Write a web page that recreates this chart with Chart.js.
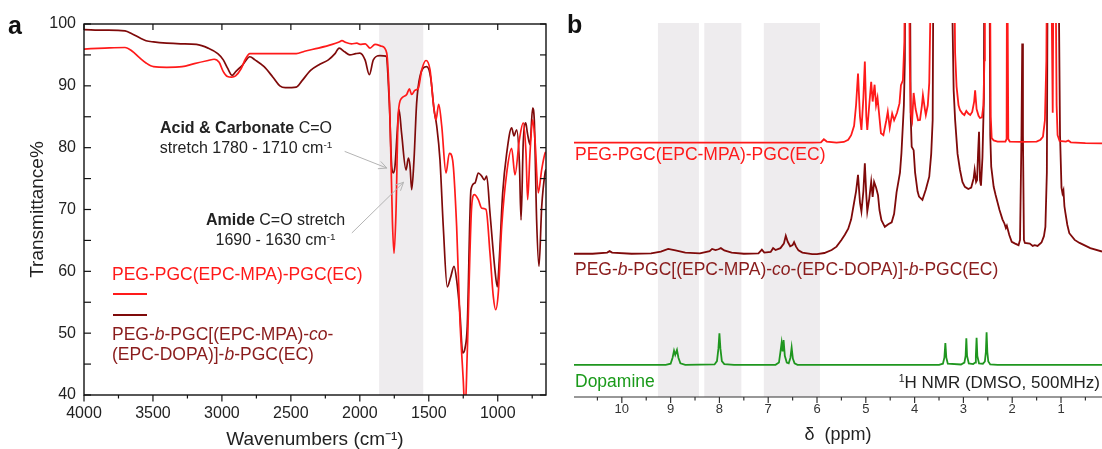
<!DOCTYPE html>
<html><head><meta charset="utf-8">
<script src="https://cdn.jsdelivr.net/npm/chart.js@4.4.1/dist/chart.umd.min.js"></script>
<style>
html,body{margin:0;padding:0;background:#fff;}
body{width:1102px;height:449px;position:relative;overflow:hidden;font-family:'Liberation Sans',Arial,sans-serif;}
canvas{position:absolute;top:0;}
#ca{left:0;width:560px;height:449px;} #cb{left:560px;width:542px;height:449px;}
.t{position:absolute;line-height:1;white-space:nowrap;}
.s{font-size:0.62em;vertical-align:0.55em;}
</style></head><body>
<canvas id="ca" width="560" height="449"></canvas>
<canvas id="cb" width="542" height="449"></canvas>

<div class="t" style="left:8px;top:13px;font-size:25px;font-weight:bold;color:#111;">a</div>
<div class="t" style="left:567px;top:12px;font-size:25px;font-weight:bold;color:#111;">b</div>

<div class="t" style="left:155px;top:120px;width:182px;text-align:center;font-size:16px;color:#222;"><b>Acid &amp; Carbonate</b> C=O</div>
<div class="t" style="left:145px;top:140px;width:202px;text-align:center;font-size:16px;color:#222;">stretch 1780 - 1710 cm<span class="s">-1</span></div>
<div class="t" style="left:195px;top:212px;width:161px;text-align:center;font-size:16px;color:#222;"><b>Amide</b> C=O stretch</div>
<div class="t" style="left:195px;top:232px;width:161px;text-align:center;font-size:16px;color:#222;">1690 - 1630 cm<span class="s">-1</span></div>

<div class="t" style="left:112px;top:266px;font-size:17.5px;color:#ff1a1a;">PEG-PGC(EPC-MPA)-PGC(EC)</div>
<div style="position:absolute;left:113px;top:293px;width:34px;height:2px;background:#ff1a1a;"></div>
<div style="position:absolute;left:113px;top:314px;width:34px;height:2px;background:#7f0a0a;"></div>
<div class="t" style="left:112px;top:326px;font-size:17.5px;color:#8a1c1c;">PEG-<i>b</i>-PGC[(EPC-MPA)-<i>co</i>-</div>
<div class="t" style="left:112px;top:346px;font-size:17.5px;color:#8a1c1c;">(EPC-DOPA)]-<i>b</i>-PGC(EC)</div>

<div class="t" style="left:575px;top:146px;font-size:17.5px;color:#ff1a1a;">PEG-PGC(EPC-MPA)-PGC(EC)</div>
<div class="t" style="left:575px;top:261px;font-size:17.5px;color:#8a1c1c;">PEG-<i>b</i>-PGC[(EPC-MPA)-<i>co</i>-(EPC-DOPA)]-<i>b</i>-PGC(EC)</div>
<div class="t" style="left:575px;top:373px;font-size:17.5px;color:#1a9a1a;">Dopamine</div>
<div class="t" style="right:2px;top:373px;font-size:17px;color:#222;"><span class="s">1</span>H NMR (DMSO, 500MHz)</div>

<script>
// ---------- Panel a: FTIR (wavenumber, transmittance %) ----------
const ftirRed = [
 [4000,95.95],[3850,96.1],[3703,96.2],[3650,95.6],[3600,94.6],[3550,93.7],[3496,93.1],[3400,93.0],
 [3289,93.1],[3200,93.6],[3100,94.1],[3056,94.3],[3020,93.8],[2990,92.3],[2960,91.5],[2930,91.4],
 [2901,91.6],[2860,92.8],[2830,94.3],[2797,95.2],[2700,95.2],[2600,95.2],[2461,95.2],[2400,95.6],
 [2300,96.1],[2200,96.7],[2150,97.1],[2130,97.3],[2100,97.0],[2060,96.8],[2021,96.9],[1999,96.7],
 [1960,96.8],[1926,96.1],[1890,96.7],[1841,96.4],[1805,95.3],[1781,84.5],[1764,68.3],[1752,62.9],
 [1738,69.4],[1721,85.6],[1697,88.0],[1660,88.6],[1641,89.5],[1624,88.6],[1600,89.3],[1576,89.6],
 [1551,92.6],[1520,94.1],[1491,92.6],[1467,87.2],[1448,84.5],[1428,87.0],[1406,83.5],[1375,75.9],
 [1351,79.1],[1327,78.0],[1298,67.3],[1274,52.1],[1250,42.4],[1237,37.0],[1221,46.8],[1189,70.5],
 [1170,72.4],[1141,71.6],[1116,70.2],[1085,70.0],[1056,62.9],[1032,55.9],[1015,53.8],[996,56.5],
 [971,67.3],[935,75.9],[899,79.9],[875,75.6],[843,81.3],[815,84.0],[795,79.1],[783,71.6],
 [766,79.1],[747,84.5],[730,81.3],[706,72.7],[681,76.5],[657,79.1],[650,79.3]
];
const ftirDark = [
 [4000,99.1],[3850,99.0],[3703,98.9],[3650,98.4],[3600,97.8],[3550,97.3],[3496,97.1],[3400,96.9],
 [3300,96.8],[3185,96.7],[3100,96.1],[3030,95.2],[2990,94.2],[2960,92.9],[2926,91.7],[2900,92.3],
 [2849,93.4],[2797,94.7],[2760,94.2],[2694,93.1],[2630,91.4],[2580,90.0],[2540,89.7],[2461,89.8],
 [2420,90.8],[2357,92.5],[2290,93.5],[2228,94.2],[2180,95.2],[2150,96.1],[2110,95.5],[2073,95.0],
 [2030,95.2],[1999,95.3],[1962,94.2],[1931,91.8],[1902,94.2],[1854,94.9],[1810,94.8],[1786,87.2],
 [1769,77.0],[1757,75.9],[1745,77.0],[1728,82.9],[1716,86.2],[1697,82.3],[1665,76.4],[1648,78.3],
 [1636,77.0],[1624,73.2],[1607,78.1],[1588,87.2],[1564,91.5],[1515,93.1],[1486,91.3],[1462,86.2],
 [1443,83.6],[1419,78.1],[1395,67.3],[1366,57.5],[1341,59.1],[1317,60.8],[1298,58.6],[1274,53.2],
 [1254,46.8],[1237,47.6],[1221,51.1],[1194,73.2],[1165,74.3],[1141,75.9],[1116,75.4],[1097,74.8],
 [1080,75.4],[1056,69.4],[1020,60.2],[1003,57.5],[989,61.8],[964,72.7],[935,79.1],[899,83.2],
 [882,81.9],[863,82.9],[843,77.6],[831,68.3],[815,80.8],[797,84.0],[785,82.4],[766,80.5],
 [747,86.4],[735,84.5],[718,68.3],[701,60.8],[681,70.5],[657,75.9],[650,76.5]
];
const ftirBand = [1860, 1540];
const xTicksA = [4000,3500,3000,2500,2000,1500,1000];
const xMinorA = [3750,3250,2750,2250,1750,1250,750];
const yTicksA = [40,50,60,70,80,90,100];
const yMinorA = [45,55,65,75,85,95];
const arrowsA = [ {from:[2110,79.4], to:[1804,76.7]}, {from:[2058,66.2], to:[1683,74.4]} ];

// ---------- Panel b: 1H NMR (ppm, offset intensity) ----------
const nmrRed = [
 [11.0,68.0],[10.0,68.0],[9.0,68.0],[8.0,68.0],[7.0,68.0],[6.1,68.0],[5.92,68.1],[5.86,68.9],[5.80,68.3],
 [5.6,68.0],[5.45,68.2],[5.36,68.8],[5.3,70],[5.24,72.5],[5.2,78],[5.16,86.5],[5.12,75],[5.09,71.4],
 [5.05,80],[5.02,89.7],[4.99,75],[4.97,71.4],[4.93,78],[4.89,84.3],[4.86,79],[4.82,83.5],[4.79,78],
 [4.76,80],[4.73,76],[4.69,70.5],[4.64,70],[4.58,74],[4.55,76.3],[4.51,72],[4.46,75.8],[4.42,74],
 [4.36,76],[4.31,78.5],[4.28,83.4],[4.24,84.7],[4.21,95],[4.19,130],[4.12,130],[4.10,90],[4.08,76],
 [4.05,74],[4.02,81.3],[3.98,77],[3.93,74],[3.89,74.1],[3.85,78],[3.83,80.7],[3.79,77],[3.77,75.4],
 [3.73,78],[3.7,84],[3.68,100],[3.66,130],[3.2,130],[3.17,92],[3.14,83],[3.1,78],[3.07,76.7],
 [3.02,75.8],[2.98,75.4],[2.94,76.5],[2.90,75.8],[2.86,75.4],[2.82,76.2],[2.78,79],[2.76,82],
 [2.73,77],[2.69,75.2],[2.66,74.6],[2.62,74.8],[2.59,78],[2.57,90],[2.56,130],[2.46,130],[2.44,75],
 [2.42,69.2],[2.38,68.6],[2.3,68.3],[2.14,68.3],[2.115,69],[2.105,130],[2.09,130],[2.08,69],[2.05,68.3],
 [1.8,68.2],[1.5,68.3],[1.42,68.8],[1.37,69.6],[1.33,74],[1.30,90],[1.28,130],[1.21,130],[1.17,76],
 [1.15,130],[1.12,130],[1.09,78],[1.07,70],[1.03,68.5],[0.9,68.3],[0.85,68.6],[0.8,68.1],[0.5,67.9],[0.16,67.8]
];
const nmrDark = [
 [11.0,38.3],[10.6,38.3],[10.3,38.6],[10.25,39.0],[10.2,38.6],[9.8,38.3],[9.4,38.4],[9.2,38.9],[9.05,39.6],
 [8.9,39.2],[8.7,38.6],[8.4,38.4],[8.2,39.0],[8.15,39.6],[8.08,39.3],[8.02,39.5],[7.97,39.8],[7.9,39.2],
 [7.75,38.6],[7.5,38.3],[7.2,38.4],[7.13,39.4],[7.08,38.6],[6.95,38.8],[6.9,39.8],[6.85,39.3],[6.75,39.8],
 [6.68,41],[6.64,43.1],[6.6,41.5],[6.55,40.3],[6.5,40.6],[6.47,41.4],[6.43,40.2],[6.38,39.2],[6.3,38.6],
 [6.1,38.2],[6.0,38.2],[5.85,38.5],[5.7,39.3],[5.6,40.2],[5.5,42],[5.43,43.4],[5.36,45],[5.3,47.5],
 [5.24,52],[5.2,55],[5.16,59.4],[5.12,52],[5.09,49.6],[5.05,55],[5.02,62.5],[4.99,54],[4.97,49.6],
 [4.93,53],[4.89,57.6],[4.86,53.5],[4.83,57.5],[4.79,56],[4.75,54],[4.72,50],[4.68,47.3],[4.61,45.5],
 [4.54,46.2],[4.47,46.7],[4.42,49],[4.37,54.7],[4.3,60],[4.27,65.2],[4.22,78],[4.2,90],[4.19,130],
 [4.1,130],[4.08,75],[4.06,66.9],[4.02,66],[3.99,60],[3.94,55],[3.91,53.6],[3.84,52.7],[3.77,55.5],
 [3.7,58.9],[3.66,65],[3.63,74],[3.61,130],[3.26,130],[3.2,82],[3.17,74.1],[3.12,65],[3.07,60.7],
 [3.02,57.5],[2.97,56.2],[2.9,55.6],[2.84,56],[2.79,58.5],[2.77,60.7],[2.74,57.5],[2.72,58],[2.70,65],
 [2.68,70.9],[2.66,58],[2.64,56.5],[2.61,64],[2.58,80],[2.57,130],[2.47,130],[2.45,70],[2.43,61.6],
 [2.38,56.2],[2.34,54],[2.26,50],[2.2,47.5],[2.16,46.4],[2.13,45.2],[2.11,45.8],[2.06,43.3],[2.01,41.5],
 [1.94,41],[1.87,40.6],[1.84,42],[1.81,70],[1.795,94.5],[1.78,70],[1.76,42],[1.74,41.2],[1.64,41],
 [1.58,40.4],[1.54,40.6],[1.48,40.4],[1.4,41.3],[1.35,43],[1.32,45.5],[1.29,60],[1.27,130],[1.06,130],
 [1.02,70],[0.99,56],[0.97,54.5],[0.95,55.3],[0.93,51],[0.91,49.2],[0.87,46],[0.83,43.8],[0.72,42],
 [0.62,41.2],[0.4,39.8],[0.16,38.9]
];
const nmrGreen = [
 [11.0,8.6],[9.1,8.6],[9.0,8.9],[8.96,10.5],[8.93,12.4],[8.905,11.3],[8.87,12.6],[8.84,10.5],[8.8,9.0],
 [8.7,8.6],[8.1,8.7],[8.05,9.6],[8.02,13],[8.0,17.0],[7.98,13],[7.95,9.6],[7.9,8.8],[7.7,8.6],[6.85,8.6],
 [6.78,9.2],[6.75,12],[6.725,14.5],[6.705,12.2],[6.685,15.2],[6.66,11],[6.62,9.2],[6.58,9.0],[6.545,10.5],
 [6.52,13.2],[6.495,10.3],[6.46,9],[6.4,8.6],[3.5,8.6],[3.42,8.9],[3.39,10.5],[3.37,14.4],[3.35,10.5],
 [3.32,8.9],[3.05,8.7],[2.98,9.2],[2.955,11],[2.94,15.7],[2.925,11],[2.89,9],[2.8,8.8],[2.76,9.2],
 [2.745,11],[2.73,15.8],[2.715,11],[2.68,9],[2.6,8.9],[2.56,9.5],[2.54,12],[2.525,17.3],[2.51,12],
 [2.49,9.5],[2.45,8.7],[2.3,8.6],[0.16,8.6]
];
const nmrBands = [[9.26,8.42],[8.31,7.55],[7.09,5.94]];
const ppmTicks = [1,2,3,4,5,6,7,8,9,10];
const ppmMinor = [1.5,2.5,3.5,4.5,5.5,6.5,7.5,8.5,9.5,10.5,0.5];

// ---------- styles ----------
const RED = '#ff1a1a', DARK = '#7f0a0a', GREEN = '#1f961f', BAND = '#eeecee';
Chart.defaults.font.family = "'Liberation Sans', Arial, sans-serif";

const pts = arr => arr.map(([x, y]) => ({x, y}));
function line(ctx, x1, y1, x2, y2) { ctx.beginPath(); ctx.moveTo(x1, y1); ctx.lineTo(x2, y2); ctx.stroke(); }

const bandPlugin = {
  id: 'bands',
  beforeDatasetsDraw(chart, args, opts) {
    const {ctx, chartArea: a, scales: {x}} = chart;
    ctx.save(); ctx.fillStyle = BAND;
    for (const [b1, b2] of opts.bands) {
      const p1 = x.getPixelForValue(b1), p2 = x.getPixelForValue(b2);
      ctx.fillRect(Math.min(p1, p2), a.top, Math.abs(p2 - p1), a.bottom - a.top);
    }
    ctx.restore();
  }
};

const frameA = {
  id: 'frameA',
  afterDraw(chart) {
    const {ctx, chartArea: a, scales: {x, y}} = chart;
    ctx.save();
    ctx.strokeStyle = '#111'; ctx.lineWidth = 1.4;
    ctx.strokeRect(a.left, a.top, a.right - a.left, a.bottom - a.top);
    ctx.lineWidth = 1.2;
    for (const v of xTicksA) { const p = x.getPixelForValue(v); line(ctx, p, a.bottom, p, a.bottom + 6.5); line(ctx, p, a.top, p, a.top + 6); }
    for (const v of xMinorA) { const p = x.getPixelForValue(v); line(ctx, p, a.bottom, p, a.bottom + 3.5); }
    for (const v of yTicksA) { const p = y.getPixelForValue(v); line(ctx, a.left, p, a.left + 7, p); line(ctx, a.right, p, a.right - 6, p); }
    for (const v of yMinorA) { const p = y.getPixelForValue(v); line(ctx, a.left, p, a.left + 7, p); line(ctx, a.right, p, a.right - 6, p); }
    // annotation arrows
    ctx.strokeStyle = '#b4b4b4'; ctx.lineWidth = 1;
    for (const ar of arrowsA) {
      const x1 = x.getPixelForValue(ar.from[0]), y1 = y.getPixelForValue(ar.from[1]);
      const x2 = x.getPixelForValue(ar.to[0]), y2 = y.getPixelForValue(ar.to[1]);
      line(ctx, x1, y1, x2, y2);
      const ang = Math.atan2(y2 - y1, x2 - x1), L = 9, w = 0.45;
      line(ctx, x2, y2, x2 - L * Math.cos(ang - w), y2 - L * Math.sin(ang - w));
      line(ctx, x2, y2, x2 - L * Math.cos(ang + w), y2 - L * Math.sin(ang + w));
    }
    ctx.restore();
  }
};

new Chart(document.getElementById('ca'), {
  type: 'line',
  data: { datasets: [
    {label: 'PEG-PGC(EPC-MPA)-PGC(EC)', data: pts(ftirRed), borderColor: RED, borderWidth: 1.7, pointRadius: 0, cubicInterpolationMode: 'monotone'},
    {label: 'PEG-b-PGC[(EPC-MPA)-co-(EPC-DOPA)]-b-PGC(EC)', data: pts(ftirDark), borderColor: DARK, borderWidth: 1.7, pointRadius: 0, cubicInterpolationMode: 'monotone'}
  ]},
  options: {
    responsive: false, animation: false, devicePixelRatio: 1,
    layout: {padding: {top: 24, right: 14, left: 0, bottom: 0}},
    plugins: {legend: {display: false}, tooltip: {enabled: false}, bands: {bands: [ftirBand]}},
    scales: {
      x: {type: 'linear', reverse: true, min: 650, max: 4000,
          afterBuildTicks: s => { s.ticks = xTicksA.map(v => ({value: v})); },
          ticks: {callback: v => String(v), font: {size: 16}, color: '#222', padding: 9, maxRotation: 0, autoSkip: false},
          grid: {display: false, drawTicks: false}, border: {display: false},
          title: {display: true, text: 'Wavenumbers (cm⁻¹)', font: {size: 19, lineHeight: 1}, color: '#222', padding: {top: 0, bottom: 0}},
          afterFit: s => { s.height = 54; }},
      y: {type: 'linear', min: 40, max: 100,
          afterBuildTicks: s => { s.ticks = yTicksA.map(v => ({value: v})); },
          ticks: {callback: v => String(v), font: {size: 16}, color: '#222', padding: 8},
          grid: {display: false, drawTicks: false}, border: {display: false},
          title: {display: true, text: 'Transmittance%', font: {size: 19, lineHeight: 1}, color: '#222', padding: {top: 28, bottom: 0}},
          afterFit: s => { s.width = 84; }}
    }
  },
  plugins: [bandPlugin, frameA]
});

const axisB = {
  id: 'axisB',
  afterDraw(chart) {
    const {ctx, chartArea: a, scales: {x}} = chart;
    ctx.save(); ctx.strokeStyle = '#333'; ctx.lineWidth = 1.2;
    line(ctx, a.left, a.bottom, a.right, a.bottom);
    for (const v of ppmTicks) { const p = x.getPixelForValue(v); line(ctx, p, a.bottom, p, a.bottom + 6); }
    for (const v of ppmMinor) { const p = x.getPixelForValue(v); line(ctx, p, a.bottom, p, a.bottom + 3.5); }
    ctx.restore();
  }
};

new Chart(document.getElementById('cb'), {
  type: 'line',
  data: { datasets: [
    {label: 'PEG-PGC(EPC-MPA)-PGC(EC)', data: pts(nmrRed), borderColor: RED, borderWidth: 1.8, pointRadius: 0, tension: 0},
    {label: 'PEG-b-PGC[(EPC-MPA)-co-(EPC-DOPA)]-b-PGC(EC)', data: pts(nmrDark), borderColor: DARK, borderWidth: 1.8, pointRadius: 0, tension: 0},
    {label: 'Dopamine', data: pts(nmrGreen), borderColor: GREEN, borderWidth: 1.8, pointRadius: 0, tension: 0}
  ]},
  options: {
    responsive: false, animation: false, devicePixelRatio: 1,
    layout: {padding: {top: 23, right: 0, left: 14, bottom: 0}},
    plugins: {legend: {display: false}, tooltip: {enabled: false}, bands: {bands: nmrBands}},
    scales: {
      x: {type: 'linear', reverse: true, min: 0.16, max: 10.98,
          afterBuildTicks: s => { s.ticks = ppmTicks.map(v => ({value: v})); },
          ticks: {callback: v => String(v), font: {size: 13}, color: '#333', padding: 5, maxRotation: 0, autoSkip: false},
          grid: {display: false, drawTicks: false}, border: {display: false},
          title: {display: true, text: 'δ  (ppm)', font: {size: 18}, color: '#222', padding: {top: 0, bottom: 3}},
          afterFit: s => { s.height = 52; }},
      y: {type: 'linear', display: false, min: 0, max: 100}
    }
  },
  plugins: [bandPlugin, axisB]
});
</script>
</body></html>
